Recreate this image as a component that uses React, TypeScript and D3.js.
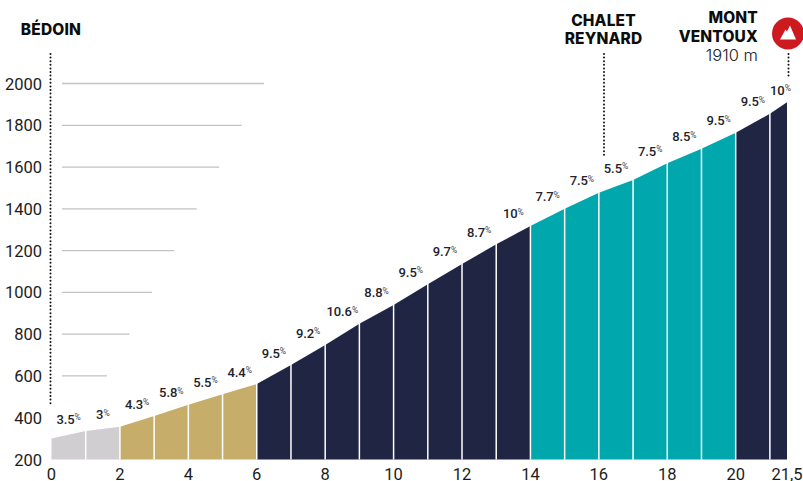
import * as d3 from "d3";

const width = 803;
const height = 481;

// km marks along the climb and the altitude read at each one
const distances = [0, 1, 2, 3, 4, 5, 6, 7, 8, 9, 10, 11, 12, 13, 14, 15, 16, 17, 18, 19, 20, 21, 21.5];
const elevations = [300, 336, 357, 408, 462, 512, 561, 652, 748, 850, 940, 1039, 1136, 1230, 1318, 1400, 1477, 1538, 1618, 1688, 1764, 1855, 1910];
const grades = ["3.5", "3", "4.3", "5.8", "5.5", "4.4", "9.5", "9.2", "10.6", "8.8", "9.5", "9.7", "8.7", "10", "7.7", "7.5", "5.5", "7.5", "8.5", "9.5", "9.5", "10"];
const sections = ["easy", "easy", "mid", "mid", "mid", "mid", "hard", "hard", "hard", "hard", "hard", "hard", "hard", "hard", "open", "open", "open", "open", "open", "open", "hard", "hard"];

const xTicks = [0, 2, 4, 6, 8, 10, 12, 14, 16, 18, 20, 21.5];
const yTicks = [200, 400, 600, 800, 1000, 1200, 1400, 1600, 1800, 2000];
const guideLevels = [600, 800, 1000, 1200, 1400, 1600, 1800, 2000];

const colors: Record<string, string> = {
  easy: "#d0ced1",
  mid: "#c6ae6a",
  hard: "#212544",
  open: "#00a7ad",
};

const x = d3.scaleLinear().domain([0, 21.5]).range([51.5, 787]);
const y = d3.scaleLinear().domain([200, 2000]).range([459.5, 83.5]);
const guideEnd = d3.scaleLinear().domain([600, 2000]).range([107, 264]);

const titleFont = "Inter, sans-serif";
const numFont = "Roboto, sans-serif";

const segmentArea = d3
  .area<number>()
  .x((i) => x(distances[i]))
  .y0(y(200))
  .y1((i) => y(elevations[i]));

type TitleProps = { lines: string[]; at: number; top: number; anchor: string; leading: number };

const Title = ({ lines, at, top, anchor, leading }: TitleProps) => (
  <text fontFamily={titleFont} fontWeight={800} fontSize={15.5} letterSpacing={0.15} fill="#0d0d0d" textAnchor={anchor}>
    {lines.map((l, i) => (
      <tspan key={i} x={at} y={top + i * leading}>
        {l}
      </tspan>
    ))}
  </text>
);

const App = () => {
  return (
    <svg width={width} height={height} style={{ position: "absolute", left: 0, top: 0, background: "#fff" }}>
      {guideLevels.map((d) => (
        <line key={d} x1={62} x2={guideEnd(d)} y1={y(d)} y2={y(d)} stroke="#c2c2c2" strokeWidth={1.3} />
      ))}

      {grades.map((_, i) => (
        <path key={i} d={segmentArea([i, i + 1]) ?? undefined} fill={colors[sections[i]]} />
      ))}
      {distances.slice(1, -1).map((d, i) => (
        <line key={d} x1={x(d)} x2={x(d)} y1={y(200)} y2={y(elevations[i + 1]) - 1} stroke="#fff" strokeWidth={1.5} />
      ))}

      {grades.map((g, i) => (
        <text
          key={i}
          x={x((distances[i] + distances[i + 1]) / 2) + (i === 21 ? 2 : 0)}
          y={y(elevations[i + 1]) - 7.5}
          textAnchor="middle"
          fontFamily={numFont}
          fontWeight={500}
          fontSize={13}
          letterSpacing={-0.1}
          fill="#23232b"
        >
          {g}
          <tspan fontSize={8.5} dy={-3.5} fontWeight={400} fill="#44444c">
            %
          </tspan>
        </text>
      ))}

      {yTicks.map((d) => (
        <text key={d} x={42} y={y(d) + 6} textAnchor="end" fontFamily={numFont} fontSize={16.5} fill="#1c1c1c">
          {d}
        </text>
      ))}
      {xTicks.map((d) => (
        <text key={d} x={x(d)} y={480} textAnchor="middle" fontFamily={numFont} fontSize={16.5} fill="#1c1c1c">
          {String(d).replace(".", ",")}
        </text>
      ))}

      <line x1={50.5} x2={50.5} y1={54} y2={404} stroke="#111" strokeWidth={2} strokeLinecap="round" strokeDasharray="0 3.6" />
      <line x1={604} x2={604} y1={54} y2={155} stroke="#111" strokeWidth={2} strokeLinecap="round" strokeDasharray="0 3.6" />
      <line x1={788.5} x2={788.5} y1={54} y2={77} stroke="#111" strokeWidth={2} strokeLinecap="round" strokeDasharray="0 3.6" />

      <Title lines={["BÉDOIN"]} at={81} top={35} anchor="end" leading={18} />
      <Title lines={["CHALET", "REYNARD"]} at={603.5} top={26} anchor="middle" leading={18} />
      <Title lines={["MONT", "VENTOUX"]} at={758} top={23} anchor="end" leading={18.7} />
      <text x={758} y={60.5} textAnchor="end" fontFamily={titleFont} fontWeight={300} fontSize={16.5} fill="#222">
        1910 m
      </text>

      <circle cx={788} cy={33.5} r={16} fill="#cc1a1f" />
      <path d="M780 39.5 L785.5 29.5 L787 31.5 L790 25.5 L796 39.5 Z" fill="#fff" />
    </svg>
  );
};

export default App;
